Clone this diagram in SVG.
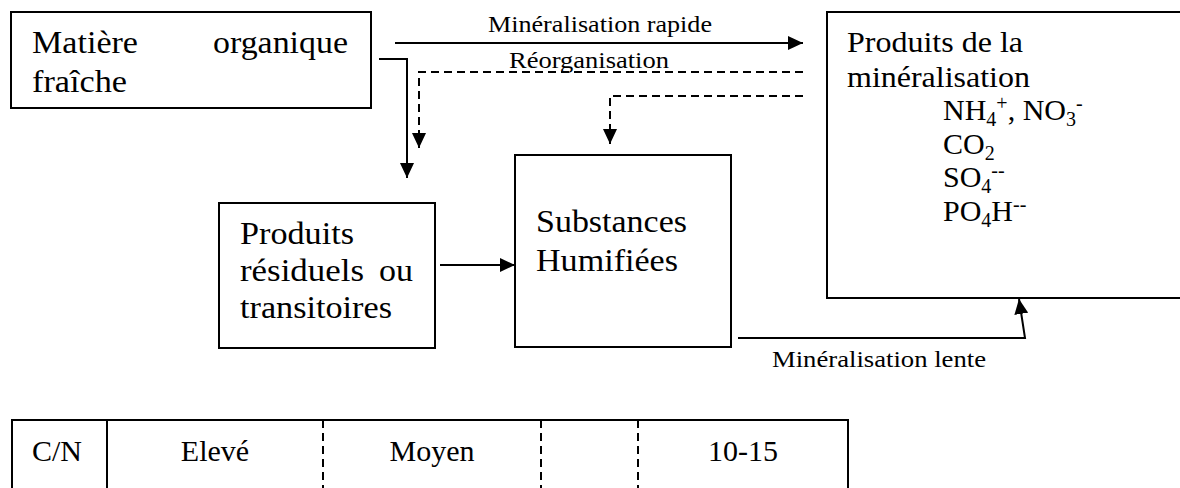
<svg xmlns="http://www.w3.org/2000/svg" width="1180" height="488" viewBox="0 0 1180 488" font-family="'Liberation Serif', 'DejaVu Serif', serif">
<style>
text{font-family:'Liberation Serif','DejaVu Serif',serif;fill:#000}
.big{font-size:31px}
.mid{font-size:30px}
.lbl{font-size:24px}
.box{fill:#fff;stroke:#000;stroke-width:2}
.con{fill:none;stroke:#000;stroke-width:2}
.dash{stroke-dasharray:8 5}
.tl{stroke:#000;stroke-width:2;fill:none}
.td{stroke:#000;stroke-width:2;stroke-dasharray:8 5;fill:none}
</style>
<defs>
<marker id="ah" viewBox="0 0 15 14" markerWidth="15" markerHeight="14" refX="15" refY="7" orient="auto" markerUnits="userSpaceOnUse">
<path d="M0,0 L15,7 L0,14 z" fill="#000"/>
</marker>
</defs>
<rect width="1180" height="488" fill="#fff"/>
<g id="mo">
<rect class="box" x="11" y="12" width="360" height="96"/>
<text class="big" x="32" y="53" textLength="106" lengthAdjust="spacingAndGlyphs">Matière</text>
<text class="big" x="213" y="53" textLength="135" lengthAdjust="spacingAndGlyphs">organique</text>
<text class="big" x="32" y="92" textLength="95" lengthAdjust="spacingAndGlyphs">fraîche</text>
</g>
<g id="pm">
<rect class="box" x="827" y="12" width="362" height="286"/>
<text class="mid" x="847" y="52" textLength="176" lengthAdjust="spacingAndGlyphs">Produits de la</text>
<text class="mid" x="847" y="87" textLength="183" lengthAdjust="spacingAndGlyphs">minéralisation</text>
<text class="mid" x="943" y="120">NH<tspan font-size="20" dy="6">4</tspan><tspan font-size="20" dy="-16">+</tspan><tspan dy="10">, NO</tspan><tspan font-size="20" dy="6">3</tspan><tspan font-size="20" dy="-16">-</tspan></text>
<text class="mid" x="943" y="154">CO<tspan font-size="20" dy="6">2</tspan></text>
<text class="mid" x="943" y="187">SO<tspan font-size="20" dy="6">4</tspan><tspan font-size="20" dy="-16">--</tspan></text>
<text class="mid" x="943" y="221">PO<tspan font-size="20" dy="6">4</tspan><tspan dy="-6">H</tspan><tspan font-size="20" dy="-10">--</tspan></text>
</g>
<g id="pr">
<rect class="box" x="219" y="203" width="216" height="145"/>
<text class="big" x="240" y="244" textLength="114" lengthAdjust="spacingAndGlyphs">Produits</text>
<text class="big" x="240" y="281" textLength="124" lengthAdjust="spacingAndGlyphs">résiduels</text>
<text class="big" x="379" y="281" textLength="34" lengthAdjust="spacingAndGlyphs">ou</text>
<text class="big" x="240" y="318" textLength="152" lengthAdjust="spacingAndGlyphs">transitoires</text>
</g>
<g id="sh">
<rect class="box" x="515" y="155" width="216" height="192"/>
<text class="big" x="536" y="232" textLength="151" lengthAdjust="spacingAndGlyphs">Substances</text>
<text class="big" x="536" y="271" textLength="142" lengthAdjust="spacingAndGlyphs">Humifiées</text>
</g>
<g id="connectors">
<path class="con" d="M395,43 H803" marker-end="url(#ah)"/>
<path class="con" d="M379,59 H407 V178" marker-end="url(#ah)"/>
<path class="con dash" d="M803,72 H419 V148" marker-end="url(#ah)"/>
<path class="con dash" d="M803,96 H610 V144" marker-end="url(#ah)"/>
<path class="con" d="M440,265 H515" marker-end="url(#ah)"/>
<path class="con" d="M738,338 H1025 L1019,299" marker-end="url(#ah)"/>
<text class="lbl" x="600" y="32" text-anchor="middle" textLength="224" lengthAdjust="spacingAndGlyphs">Minéralisation rapide</text>
<text class="lbl" x="589" y="68" text-anchor="middle" textLength="160" lengthAdjust="spacingAndGlyphs">Réorganisation</text>
<text class="lbl" x="772" y="367" textLength="214" lengthAdjust="spacingAndGlyphs">Minéralisation lente</text>
</g>
<g id="table">
<path class="tl" d="M12,495 V420 H848 V495 M107,420 V495"/>
<path class="td" d="M323,420 V495 M541,420 V495 M638,420 V495"/>
<text class="mid" x="57" y="461" text-anchor="middle">C/N</text>
<text class="mid" x="215" y="461" text-anchor="middle">Elevé</text>
<text class="mid" x="432" y="461" text-anchor="middle">Moyen</text>
<text class="mid" x="743" y="461" text-anchor="middle">10-15</text>
</g>
</svg>
